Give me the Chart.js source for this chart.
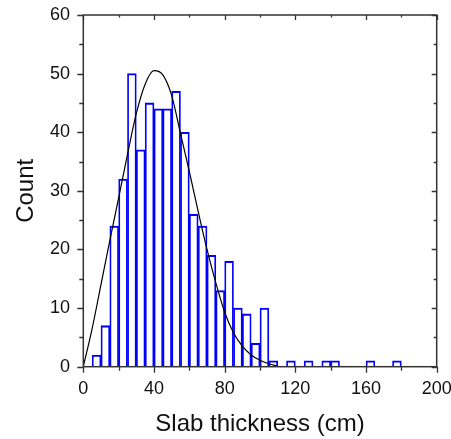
<!DOCTYPE html>
<html>
<head>
<meta charset="utf-8">
<script src="https://cdn.jsdelivr.net/npm/chart.js@4/dist/chart.umd.min.js"></script>
<style>
  html, body { margin: 0; padding: 0; background: #fff; }
  canvas { display: block; }
</style>
</head>
<body>
<canvas id="hist" width="451" height="439"></canvas>
<script>
// Histogram bins (left edge, cm) and counts, width 5 cm
const binWidth = 5;
const binStarts = [5, 10, 15, 20, 25, 30, 35, 40, 45, 50, 55, 60, 65, 70, 75, 80, 85, 90, 95, 100, 105, 115, 125, 135, 140, 160, 175];
const binCounts = [2, 7, 24, 32, 50, 37, 45, 44, 44, 47, 40, 26, 24, 19, 13, 18, 10, 9, 4, 10, 1, 1, 1, 1, 1, 1, 1];

// Fitted curve
const fitX = [0, 5, 10, 15, 20, 25, 30, 35, 40, 45, 50, 55, 60, 65, 70, 75, 80, 85, 90, 95, 100, 105, 110];
const fitY = [0, 6.5, 14, 21.5, 28.8, 36.2, 43.2, 48.2, 50.5, 49.8, 46.3, 39.8, 33.3, 26.5, 20, 14.3, 9.3, 5.8, 3.5, 2, 1.1, 0.5, 0.1];

const xMin = 0, xMax = 200, xMajor = 40, xMinor = 20;
const yMin = 0, yMax = 60, yMajor = 10, yMinor = 5;

const FONT = "'Liberation Sans', Arial, sans-serif";
const INK = '#111';
const AXIS = '#333';

// cadre + graduations (majeures / mineures), dessinés à partir des échelles
const frameTicks = {
    id: 'frameTicks',
    afterDraw(chart) {
        const { ctx, chartArea: a, scales: { x, y } } = chart;
        ctx.save();
        ctx.strokeStyle = AXIS;
        ctx.lineWidth = 1.5;
        ctx.strokeRect(a.left, a.top, a.right - a.left, a.bottom - a.top);
        ctx.lineWidth = 1.3;
        ctx.beginPath();
        for (let v = xMin; v <= xMax; v += xMinor) {
            const px = Math.round(x.getPixelForValue(v)) + 0.5;
            const major = v % xMajor === 0;
            ctx.moveTo(px, a.bottom);
            ctx.lineTo(px, a.bottom + (major ? 6 : 4));
            ctx.moveTo(px, a.top);
            ctx.lineTo(px, a.top + (major ? 5 : 2.5));
        }
        for (let v = yMin; v <= yMax; v += yMinor) {
            const py = Math.round(y.getPixelForValue(v)) + 0.5;
            const major = v % yMajor === 0;
            ctx.moveTo(a.left, py);
            ctx.lineTo(a.left - (major ? 6 : 4), py);
            ctx.moveTo(a.right, py);
            ctx.lineTo(a.right - (major ? 5 : 3), py);
        }
        ctx.stroke();
        ctx.restore();
    }
};

// pas de marge auto pour les libellés qui débordent
function noLabelPadding(scale) {
    scale.paddingLeft = 0;
    scale.paddingRight = 0;
    scale.paddingTop = 0;
    scale.paddingBottom = 0;
}

const barData = binStarts.map((s, i) => ({ x: s + binWidth / 2, y: binCounts[i] }));
const fitData = fitX.map((v, i) => ({ x: v, y: fitY[i] }));

new Chart(document.getElementById('hist'), {
    type: 'bar',
    data: {
        datasets: [
            {
                type: 'bar',
                data: barData,
                backgroundColor: 'rgba(0,0,0,0)',
                borderColor: '#0000ff',
                borderWidth: { top: 1.4, left: 1.1, right: 1.1, bottom: 0 },
                borderSkipped: false,
                barPercentage: 1,
                categoryPercentage: 1,
                order: 2
            },
            {
                type: 'line',
                data: fitData,
                borderColor: '#000',
                borderWidth: 1.2,
                pointRadius: 0,
                cubicInterpolationMode: 'monotone',
                fill: false,
                order: 1
            }
        ]
    },
    options: {
        responsive: false,
        animation: false,
        layout: { padding: { top: 15, right: 14.3, left: 0, bottom: 0 } },
        plugins: {
            legend: { display: false },
            tooltip: { enabled: false }
        },
        scales: {
            x: {
                type: 'linear',
                min: xMin,
                max: xMax,
                offset: false,
                grid: { display: false, drawTicks: false },
                border: { display: false },
                ticks: {
                    stepSize: xMajor,
                    padding: 12,
                    color: INK,
                    font: { family: FONT, size: 18 },
                    maxRotation: 0
                },
                title: {
                    display: true,
                    text: 'Slab thickness (cm)',
                    color: INK,
                    font: { family: FONT, size: 24 },
                    padding: { top: 2, bottom: 0 }
                },
                afterFit(scale) {
                    scale.height = 72.3;
                    noLabelPadding(scale);
                }
            },
            y: {
                min: yMin,
                max: yMax,
                grid: { display: false, drawTicks: false },
                border: { display: false },
                ticks: {
                    stepSize: yMajor,
                    padding: 13.3,
                    color: INK,
                    font: { family: FONT, size: 18 }
                },
                title: {
                    display: true,
                    text: 'Count',
                    color: INK,
                    font: { family: FONT, size: 24 },
                    padding: { top: 12, bottom: 0 }
                },
                afterFit(scale) {
                    scale.width = 83.3;
                    noLabelPadding(scale);
                }
            }
        }
    },
    plugins: [frameTicks]
});
</script>
</body>
</html>
